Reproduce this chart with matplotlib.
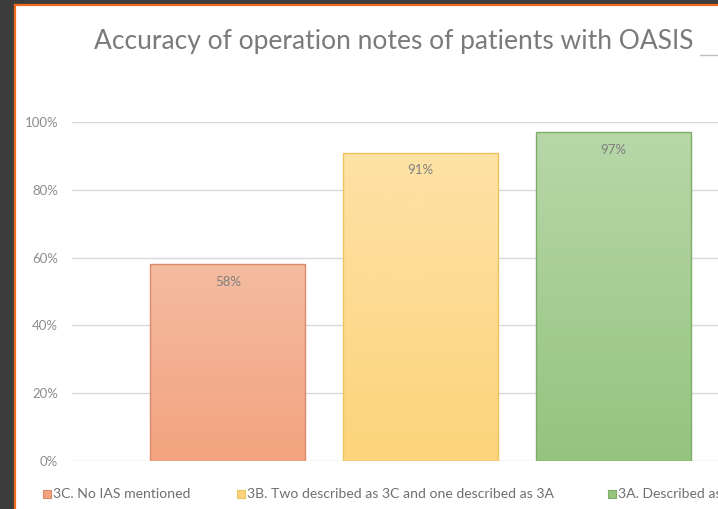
import numpy as np
import matplotlib.pyplot as plt
from matplotlib.patches import Rectangle
from matplotlib.lines import Line2D
from matplotlib.colors import LinearSegmentedColormap

plt.rcParams['font.family'] = ['Lato', 'DejaVu Sans']

categories = ["3C. No IAS mentioned",
              "3B. Two described as 3C and one described as 3A",
              "3A. Described as 3C"]
values = [58, 91, 97]
top_colors = ["#f3bca1", "#fde2a6", "#b7d7a8"]
bottom_colors = ["#f4a37f", "#fdd37b", "#95c47e"]
edge_colors = ["#d98a68", "#ecc45c", "#7dae69"]
yticks = [0, 20, 40, 60, 80, 100]
title = "Accuracy of operation notes of patients with OASIS"

W, H = 718, 509
fig = plt.figure(figsize=(W / 100, H / 100), dpi=100, facecolor="#3c3c3c")

# white slide area with orange frame
fig.patches.append(Rectangle((16 / W, 0), 1, 1 - 6 / H, transform=fig.transFigure,
                             facecolor="white", edgecolor="none", zorder=-5))
fig.add_artist(Line2D([15 / W, 15 / W], [0, 1 - 5 / H], color="#f26a1b", lw=1.6,
                      transform=fig.transFigure, zorder=-4))
fig.add_artist(Line2D([15 / W, 1], [1 - 5 / H, 1 - 5 / H], color="#f26a1b", lw=1.6,
                      transform=fig.transFigure, zorder=-4))

ax = fig.add_axes([72 / W, 48 / H, (W - 72) / W, 339 / H])
ax.set_facecolor("none")

x = np.arange(len(values))
width = 0.805
bars = ax.bar(x, values, width=width, color=bottom_colors, edgecolor="none",
              linewidth=0, zorder=3)

grad = np.linspace(0, 1, 256).reshape(-1, 1)
for i, b in enumerate(bars):
    cmap = LinearSegmentedColormap.from_list("g%d" % i, [bottom_colors[i], top_colors[i]])
    im = ax.imshow(grad, extent=(x[i] - width / 2, x[i] + width / 2, 0, values[i]),
                   origin="lower", aspect="auto", cmap=cmap, zorder=3.5)
    im.set_clip_path(b)
    ax.bar(x[i], values[i], width=width, color="none", edgecolor=edge_colors[i],
           linewidth=1.0, zorder=4)
    ax.text(x[i], values[i] - 5.3, f"{values[i]}%", ha="center", va="center",
            fontsize=9.5, color="#7f7f7f", zorder=5)

ax.set_xlim(-0.81, 2.545)
ax.set_ylim(0, 100)
ax.set_yticks(yticks)
ax.set_yticklabels([f"{t}%" for t in yticks])
ax.tick_params(axis="y", length=0, pad=10, labelsize=9.5, labelcolor="#8c8c8c")
ax.set_xticks([])
ax.grid(axis="y", color="#d9d9d9", linewidth=1.0, zorder=0)
for s in ax.spines.values():
    s.set_visible(False)

fig.text(394 / W, 1 - 41 / H, title, ha="center", va="center", fontsize=19,
         color="#7a7a7a")
fig.add_artist(Line2D([700 / W, 1], [1 - 55 / H, 1 - 55 / H], color="#bfbfbf",
                      lw=1.0, transform=fig.transFigure))

# legend drawn by hand to keep Excel spacing
leg_x = [43, 237, 608]
for i, lab in enumerate(categories):
    fig.patches.append(Rectangle((leg_x[i] / W, 1 - 498 / H), 8 / W, 8 / H,
                                 transform=fig.transFigure, facecolor=bottom_colors[i],
                                 edgecolor=edge_colors[i], linewidth=0.8))
    fig.text((leg_x[i] + 10) / W, 1 - 494 / H, lab, ha="left", va="center",
             fontsize=10.1, color="#6f6f6f")

fig.savefig("out.png", dpi=100, facecolor=fig.get_facecolor())
